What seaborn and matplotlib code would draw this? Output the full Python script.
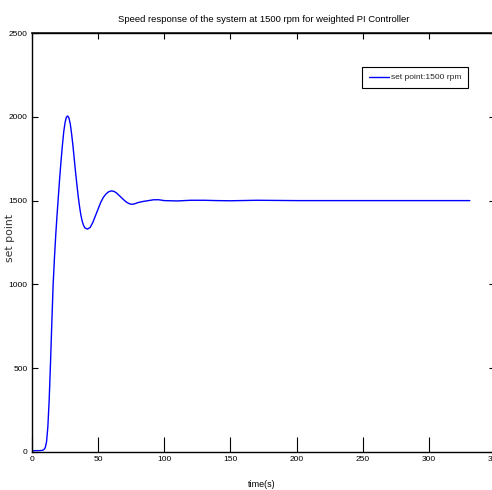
import matplotlib
matplotlib.use("Agg")
import matplotlib.pyplot as plt
import seaborn as sns
import pandas as pd

# Speed response samples (time in s, speed in rpm)
time_s = [0, 2, 4, 6, 8, 9, 10, 11, 12, 13, 14, 15, 16, 17, 18, 19, 20, 21, 22,
          23, 24, 25, 26, 27, 28, 29, 30, 31, 32, 33, 34, 35, 36, 37, 38, 39,
          40, 42, 44, 46, 48, 50, 52, 54, 56, 58, 60, 62, 64, 66, 68, 70, 72,
          74, 76, 78, 80, 84, 88, 92, 96, 100, 110, 120, 130, 140, 150, 170,
          200, 250, 300, 331]
speed = [5, 8, 8, 8, 10, 14, 25, 60, 150, 310, 530, 770, 1000, 1160, 1300, 1420,
         1530, 1640, 1740, 1830, 1910, 1965, 1998, 2005, 1992, 1955, 1895, 1825,
         1745, 1665, 1592, 1522, 1462, 1412, 1376, 1352, 1337, 1330, 1340, 1370,
         1410, 1450, 1490, 1520, 1540, 1553, 1558, 1555, 1545, 1530, 1515, 1500,
         1488, 1480, 1478, 1482, 1488, 1495, 1500, 1505, 1505, 1500, 1498, 1502,
         1502, 1500, 1499, 1502, 1500, 1500, 1500, 1500]

x_ticks = [0, 50, 100, 150, 200, 250, 300, 350]
y_ticks = [0, 500, 1000, 1500, 2000, 2500]

df = pd.DataFrame({"time(s)": time_s, "speed": speed})

sns.set_theme(style="white")
plt.rcParams["font.family"] = ["Liberation Sans", "DejaVu Sans"]

fig = plt.figure(figsize=(4.92, 4.90), dpi=100)
ax = fig.add_axes([0.065, 0.0776, 0.941, 0.855])

sns.lineplot(data=df, x="time(s)", y="speed", ax=ax, color="#0000ff",
             linewidth=1.0, label="set point:1500 rpm")

ax.set_xlim(0, 350)
ax.set_ylim(0, 2500)
ax.set_xticks(x_ticks)
ax.set_yticks(y_ticks)
ax.tick_params(axis="y", direction="in", length=4, width=0.8, colors="black",
               labelsize=6, left=True, right=True, pad=3)
# long inward ticks along the bottom edge, short ones along the top
ax.tick_params(axis="x", direction="in", length=11, width=0.8, colors="black",
               labelsize=6, bottom=True, top=False, pad=3)
top = ax.secondary_xaxis("top")
top.set_xticks(x_ticks)
top.tick_params(direction="in", length=4, width=0.8, colors="black",
                labeltop=False)
for s in ax.spines.values():
    s.set_visible(True)
    s.set_color("black")
    s.set_linewidth(1.0)

ax.set_title("Speed response of the system at 1500 rpm for weighted PI Controller",
             fontsize=6.8, pad=8, color="black")
ax.set_xlabel("time(s)", fontsize=6.5, color="black")
ax.xaxis.set_label_coords(0.497, -0.066)
ax.set_ylabel("set point", fontsize=7.8, color="#333333",
              family=["DejaVu Sans"])
ax.yaxis.set_label_coords(-0.036, 0.51)

leg = ax.legend(loc="upper right", bbox_to_anchor=(0.942, 0.919), fontsize=6,
                frameon=True, fancybox=False, framealpha=1, edgecolor="black",
                handlelength=2.4, handletextpad=0.3, borderpad=0.8,
                borderaxespad=0)
leg.get_frame().set_linewidth(0.8)

fig.savefig("out.png", dpi=100)
